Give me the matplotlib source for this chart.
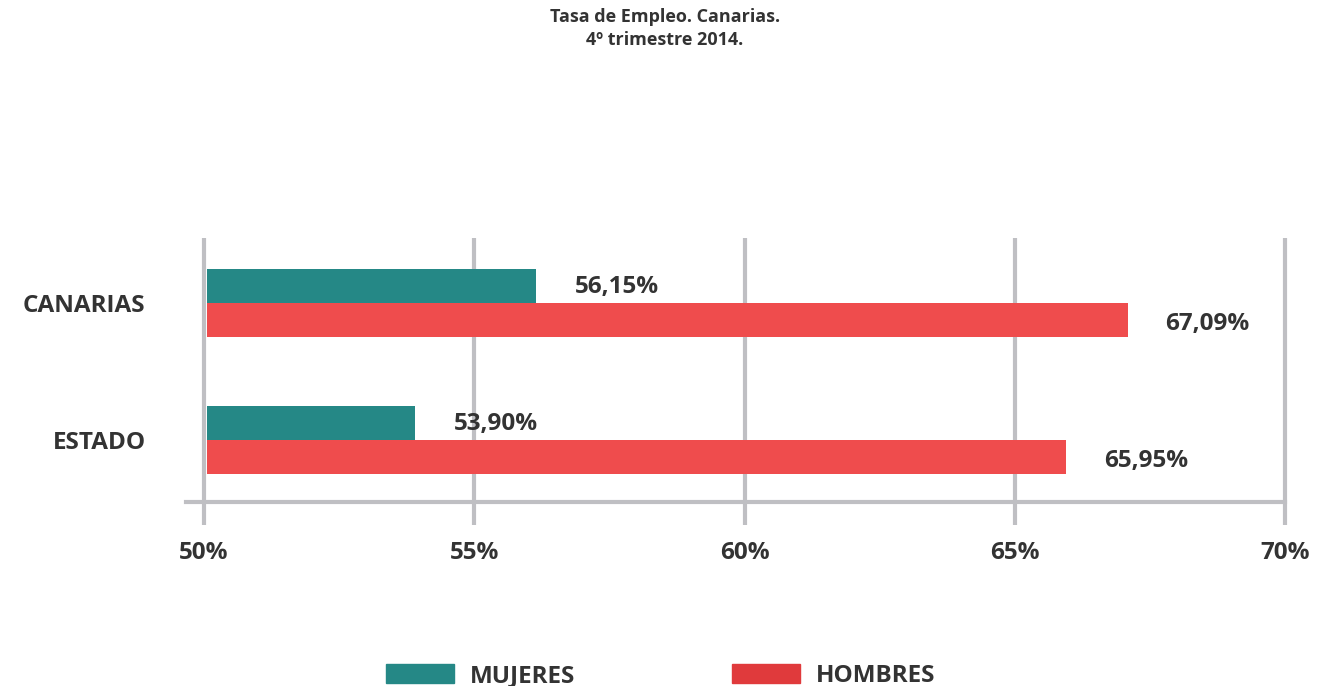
import numpy as np
import matplotlib.pyplot as plt
from matplotlib.patches import Patch

plt.rcParams['font.family'] = ['Open Sans', 'DejaVu Sans']
plt.rcParams['font.weight'] = 'bold'

regiones = ['ESTADO', 'CANARIAS']
mujeres = [53.90, 56.15]
hombres = [65.95, 67.09]
ticks = [50, 55, 60, 65, 70]

teal = '#258886'
red = '#ef4c4d'
grey = '#bfbfc3'
txt = '#333333'
fs = 17.5

fig = plt.figure(figsize=(13.3, 6.86), dpi=100)
ax = fig.add_axes([186 / 1330, 184 / 686, (1285 - 186) / 1330, 264 / 686])

y = np.arange(len(regiones))
h = 0.248
start = 50.05
ax.barh(y + h / 2, [m - start for m in mujeres], height=h, left=start, color=teal, zorder=3)
ax.barh(y - h / 2, [v - start for v in hombres], height=h, left=start, color=red, zorder=3)

for i in range(len(regiones)):
    ax.text(mujeres[i] + 0.72, y[i] + h / 2 - 0.01, f'{mujeres[i]:.2f}%'.replace('.', ','),
            va='center', ha='left', fontsize=fs, color=txt, fontweight='bold')
    ax.text(hombres[i] + 0.7, y[i] - h / 2 - 0.03, f'{hombres[i]:.2f}%'.replace('.', ','),
            va='center', ha='left', fontsize=fs, color=txt, fontweight='bold')

ax.set_xlim(50 - 18 / 54.05, 70)
ax.set_ylim(-0.4526, 1.4745)

# vertical gridlines, drawn through the bottom spine like ticks
for t in ticks:
    ax.plot([t, t], [-0.62, 1.4745], color=grey, lw=3, clip_on=False, zorder=1,
            solid_capstyle='butt')

for s in ['top', 'right', 'left']:
    ax.spines[s].set_visible(False)
ax.spines['bottom'].set_color(grey)
ax.spines['bottom'].set_linewidth(3)
ax.spines['bottom'].set_zorder(2)

ax.set_xticks(ticks)
ax.set_xticklabels([f'{t}%' for t in ticks])
ax.tick_params(axis='x', length=0, pad=28, labelsize=fs, labelcolor=txt)
ax.set_yticks(y)
ax.set_yticklabels(regiones)
ax.tick_params(axis='y', length=0, pad=29, labelsize=fs, labelcolor=txt)

fig.text(0.5, 0.988, 'Tasa de Empleo. Canarias.\n4º trimestre 2014.', ha='center', va='top',
         fontsize=13, color=txt, fontweight='bold', linespacing=1.35)

handles = [Patch(color=teal), Patch(color='#e03a3c')]
fig.legend(handles, ['MUJERES', 'HOMBRES'], loc='lower center', bbox_to_anchor=(0.497, -0.035),
           ncol=2, frameon=False, fontsize=fs, handlelength=2.8, handleheight=0.86,
           handletextpad=0.65, columnspacing=6.45, labelcolor=txt)

fig.savefig('out.png', dpi=100)
